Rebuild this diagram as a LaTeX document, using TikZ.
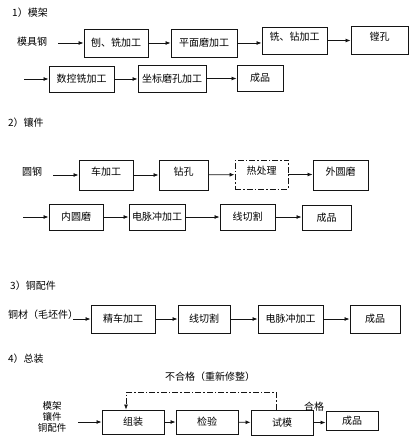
\documentclass[tikz,border=0pt]{standalone}
\usepackage{fontspec}
\usepackage{tikz}
\usetikzlibrary{arrows.meta, positioning, calc}
\newfontfamily\cjk{Noto Sans CJK SC}
\definecolor{mydark}{RGB}{20,20,20}
\tikzset{
  block/.style={rectangle, draw=mydark, line width=0.9pt, inner sep=0pt,
    font=\cjk\fontsize{10}{12}\selectfont},
  hi/.style={text depth=8pt},
  dblock/.style={block, dash pattern=on 6pt off 2pt on 1.5pt off 2pt},
  arrow/.style={-{Latex[length=5pt,width=4pt]}, line width=0.8pt, color=mydark},
  loopline/.style={line width=0.7pt, color=mydark, dash pattern=on 6pt off 2pt on 1.5pt off 2pt},
  lbl/.style={inner sep=0pt, font=\cjk\fontsize{10}{12}\selectfont},
  title/.style={lbl, anchor=west}
}
\begin{document}
\begin{tikzpicture}[x=1pt, y=-1pt]
  \useasboundingbox (0,0) rectangle (413,446);

  % 1) mould frame
  \node [title] (t1) at (12,13) {1）模架};
  \node [title] (src1) at (17,42) {模具钢};
  \coordinate (s1) at (58,43);
  \node [block, minimum width=64pt, minimum height=28pt] (mj1) at (116,43) {刨、铣加工};
  \node [block, minimum width=66pt, minimum height=28pt] (mj2) at (204,43) {平面磨加工};
  \node [block, hi, minimum width=65pt, minimum height=27pt] (mj3) at (294.5,40.5) {铣、钻加工};
  \node [block, hi, minimum width=57pt, minimum height=28pt] (mj4) at (379.5,40) {镗孔};
  \coordinate (s2) at (24,79);
  \node [block, minimum width=65pt, minimum height=26pt] (mj5) at (81.5,79) {数控铣加工};
  \node [block, minimum width=68pt, minimum height=27pt] (mj6) at (172,78.5) {坐标磨孔加工};
  \node [block, minimum width=46pt, minimum height=26pt] (mj7) at (260,78) {成品};
  \draw [arrow] (s1) -- (s1 -| mj1.west);
  \draw [arrow] (mj1) -- (mj2);
  \draw [arrow] (mj2.east) -- (mj2.east -| mj3.west);
  \draw [arrow] (mj3.east) -- (mj3.east -| mj4.west);
  \draw [arrow] (s2) -- (s2 -| mj5.west);
  \draw [arrow] (mj5.east) -- (mj5.east -| mj6.west);
  \draw [arrow] (mj6.east) -- (mj6.east -| mj7.west);

  % 2) inserts
  \node [title] (t2) at (8,123) {2）镶件};
  \node [title] (src2) at (22,172) {圆钢};
  \coordinate (s3) at (53,175);
  \node [block, hi, minimum width=54pt, minimum height=30pt] (xj1) at (106,175) {车加工};
  \node [block, hi, minimum width=49pt, minimum height=30pt] (xj2) at (183.5,175) {钻孔};
  \node [dblock, hi, minimum width=53pt, minimum height=29pt] (xj3) at (261.5,174.5) {热处理};
  \node [block, hi, minimum width=55pt, minimum height=30pt] (xj4) at (340.5,175) {外圆磨};
  \coordinate (s4) at (23,217);
  \node [block, minimum width=54pt, minimum height=26pt] (xj5) at (76,217) {内圆磨};
  \node [block, minimum width=56pt, minimum height=26pt] (xj6) at (157,217) {电脉冲加工};
  \node [block, minimum width=55pt, minimum height=26pt] (xj7) at (247.5,217) {线切割};
  \node [block, minimum width=49pt, minimum height=25pt] (xj8) at (326.5,217.5) {成品};
  \draw [arrow] (s3) -- (xj1);
  \draw [arrow] (xj1) -- (xj2);
  \draw [arrow] (xj2) -- (xj3);
  \draw [arrow] (xj3.east) -- (xj3.east -| xj4.west);
  \draw [arrow] (s4) -- (xj5);
  \draw [arrow] (xj5) -- (xj6);
  \draw [arrow] (xj6) -- (xj7);
  \draw [arrow] (xj7.east) -- (xj7.east -| xj8.west);

  % 3) copper parts
  \node [title] (t3) at (10,286) {3）铜配件};
  \node [title] (src3) at (8,315) {铜材（毛坯件）};
  \coordinate (s5) at (73,319);
  \node [block, minimum width=64pt, minimum height=28pt] (tp1) at (123,319) {精车加工};
  \node [block, minimum width=52pt, minimum height=28pt] (tp2) at (204,319) {线切割};
  \node [block, minimum width=65pt, minimum height=28pt] (tp3) at (290.5,319) {电脉冲加工};
  \node [block, minimum width=50pt, minimum height=28pt] (tp4) at (375,319) {成品};
  \draw [arrow] (s5) -- (tp1);
  \draw [arrow] (tp1) -- (tp2);
  \draw [arrow] (tp2) -- (tp3);
  \draw [arrow] (tp3) -- (tp4);

  % 4) assembly
  \node [title] (t4) at (8,359) {4）总装};
  \node [lbl, align=center, font=\cjk\fontsize{9.5}{11}\selectfont] (src4) at (52,417) {模架\\镶件\\铜配件};
  \coordinate (s6) at (78,422);
  \node [block, minimum width=62pt, minimum height=24pt] (zz1) at (133,422) {组装};
  \node [block, minimum width=62pt, minimum height=24pt] (zz2) at (207,422) {检验};
  \node [block, minimum width=62pt, minimum height=25pt] (zz3) at (282,422.5) {试模};
  \node [block, minimum width=52pt, minimum height=19pt] (zz4) at (352,420.5) {成品};
  \node [lbl] (fail) at (210,377) {不合格（重新修整）};
  \node [lbl] (pass) at (314,407) {合格};
  \draw [arrow] (s6) -- (zz1);
  \draw [arrow] (zz1) -- (zz2);
  \draw [arrow] (zz2) -- (zz3);
  \draw [arrow] (zz3.east) -- (zz3.east -| zz4.west);
  \draw [arrow, loopline] ([xshift=-6pt]zz3.north) -- ++(0,-17) -| ([xshift=-7pt]zz1.north);
\end{tikzpicture}
\end{document}
